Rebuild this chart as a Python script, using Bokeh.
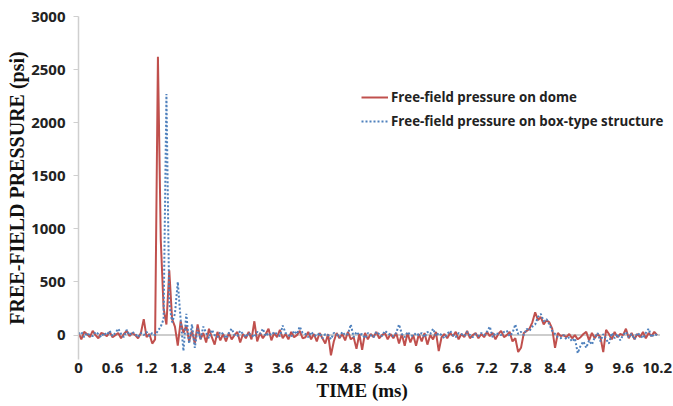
import numpy as np
from bokeh.plotting import figure
from bokeh.models import FixedTicker, Legend, LegendItem, Range1d, Title
from bokeh.embed import file_html
from bokeh.resources import INLINE

# sampling grid (ms)
t_start, t_step, t_count = 0.0, 0.05, 205

dome = [
    20, -40, 30, 10, -20, 40, 0, -30, 20, 10, -10, 30, -20, 0, 20, -30, 10, 40, -10, 20,
    0, -30, 20, 150, -20, 10, -80, -40, 2620, 900, 250, 100, 610, 150, 80, -100, 130, 20, 90, -60,
    40, -80, 100, -40, 20, -70, 60, -20, -90, 30, -50, 10, -60, 20, -40, 0, 30, -70, 10, -30,
    30, -40, 130, -60, 20, -30, 10, 60, -50, 20, -20, 50, -30, 10, -40, 30, -20, 0, 40, -30,
    -20, 30, -40, 10, -60, 20, -30, -80, 10, -190, -60, 20, -30, 10, -50, 30, -40, -20, -130, 10,
    -140, 20, -40, 10, -20, 30, -30, 0, 20, -40, 10, -30, 20, -80, 10, -100, 20, -70, 0, -100,
    10, -60, 20, -90, 0, -40, 30, -150, -20, 10, -30, 20, -10, 30, -40, 10, -20, 40, -30, 0,
    20, -30, 10, -20, 30, -10, 20, -40, 10, 40, -20, 0, 30, -60, -30, -160, -120, 20, 40, 60,
    120, 215, 140, 170, 100, 140, 120, 60, -120, 20, -10, 0, -20, 10, -30, 0, -40, -20, 10, 30,
    -50, 20, -30, 10, -20, -160, 50, 10, -40, 30, -20, 10, 0, 60, -30, 20, -40, 10, -20, 30,
    -30, 20, -10, 30, 0,
]

box = [
    10, 30, -20, 20, 0, -10, 30, 10, -20, 20, 0, 40, -10, 20, 60, 10, -20, 50, 0, 30,
    10, -20, 20, 0, 30, -10, 20, 0, 40, 80, 150, 2270, 300, 120, 200, 500, 150, -150, 200, -80,
    100, -120, 60, -40, 80, 20, -30, 50, 0, -20, 30, 10, -30, 20, 60, 0, -10, 40, 10, -20,
    20, 0, -20, 30, 10, 60, -10, 20, 0, 30, 10, -10, 90, 20, 0, -20, 40, 10, 80, 20,
    10, -20, 30, 0, -10, 20, -30, 10, 0, -40, 20, 10, -20, 30, 0, 10, 100, -20, 30, 0,
    10, -30, 20, 0, -20, 30, 10, -10, 40, 20, 0, -10, 20, 100, 10, -20, 30, 0, -10, 20,
    0, 20, -20, 30, 10, 60, -10, 20, 0, -30, 10, 40, 0, -20, 20, 10, -10, 30, 0, -20,
    10, -10, 20, 0, 30, 80, -20, 20, 10, 0, 30, 40, -10, 20, 100, 10, 30, 0, 60, 40,
    80, 100, 170, 200, 130, 150, 100, 40, 10, -20, -30, 0, -40, -20, -60, -30, -170, -100, -60, -120,
    -50, -90, -20, 20, -60, 10, -40, -80, 20, -30, 10, -50, 0, 30, -20, 10, -40, 20, 0, -30,
    20, 60, -20, 10, 0,
]

x_ticks = [0, 0.6, 1.2, 1.8, 2.4, 3, 3.6, 4.2, 4.8, 5.4, 6, 6.6, 7.2, 7.8, 8.4, 9, 9.6, 10.2]
x_tick_labels = ["0", "0.6", "1.2", "1.8", "2.4", "3", "3.6", "4.2", "4.8", "5.4",
                 "6", "6.6", "7.2", "7.8", "8.4", "9", "9.6", "10.2"]
y_ticks = [0, 500, 1000, 1500, 2000, 2500, 3000]
zero_line_end = 10.25

series_names = ["Free-field pressure on dome", "Free-field pressure on box-type structure"]
x_title = "TIME (ms)"
y_title = "FREE-FIELD PRESSURE (psi)"

t = np.round(t_start + t_step * np.arange(t_count), 2)

p = figure(width=673, height=406, output_backend="svg", toolbar_location=None,
           x_range=Range1d(0, 10.4), y_range=Range1d(-230, 3000),
           min_border_left=78, min_border_right=5, min_border_top=16, min_border_bottom=47)
p.outline_line_color = None
p.grid.visible = False
p.background_fill_color = "white"

p.segment(x0=[0], y0=[0], x1=[zero_line_end], y1=[0], line_color="#bdbdbd", line_width=1.5)

r_dome = p.line(t, dome, line_color="#c0504d", line_width=2)
r_box = p.line(t, box, line_color="#4f81bd", line_width=2, line_dash="2 2")

# axes
xa = p.xaxis[0]
xa.ticker = FixedTicker(ticks=x_ticks)
xa.major_label_overrides = {k: v for k, v in zip(x_ticks, x_tick_labels)}
xa.axis_line_color = None
xa.major_tick_line_color = None
xa.minor_tick_line_color = None
xa.major_tick_out = 0
xa.major_tick_in = 0
xa.major_label_standoff = 3
xa.major_label_text_font = "Open Sans"
xa.major_label_text_font_style = "bold"
xa.major_label_text_font_size = "15px"
xa.major_label_text_color = "#222222"
xa.major_label_text_line_height = 0.9

# x-axis title below the tick labels
p.add_layout(Title(text=x_title, align="left", offset=238, standoff=5,
                   text_font="Liberation Serif", text_font_style="bold",
                   text_font_size="19px", text_color="#111111"), "below")

ya = p.yaxis[0]
ya.ticker = FixedTicker(ticks=y_ticks)
ya.axis_line_color = "#cfcfcf"
ya.axis_line_width = 1.5
ya.major_tick_line_color = "#cfcfcf"
ya.minor_tick_line_color = None
ya.major_tick_out = 5
ya.major_tick_in = 0
ya.major_label_standoff = 8
ya.major_label_text_font = "Open Sans"
ya.major_label_text_font_style = "bold"
ya.major_label_text_font_size = "15px"
ya.major_label_text_color = "#222222"
ya.axis_label = y_title
ya.axis_label_text_font = "Liberation Serif"
ya.axis_label_text_font_style = "bold"
ya.axis_label_text_font_size = "20px"
ya.axis_label_text_color = "#111111"
ya.axis_label_standoff = 0

legend = Legend(items=[LegendItem(label=series_names[0], renderers=[r_dome]),
                       LegendItem(label=series_names[1], renderers=[r_box])],
                location=(283, 229))
legend.border_line_color = None
legend.background_fill_alpha = 0
legend.padding = 0
legend.margin = 0
legend.spacing = 6
legend.glyph_width = 27
legend.glyph_height = 16
legend.label_standoff = 3
legend.label_text_font = "Open Sans"
legend.label_text_font_style = "bold"
legend.label_text_font_size = "13.3px"
legend.label_text_color = "#222222"
p.add_layout(legend)

open("out.html", "w").write(file_html(p, INLINE))
